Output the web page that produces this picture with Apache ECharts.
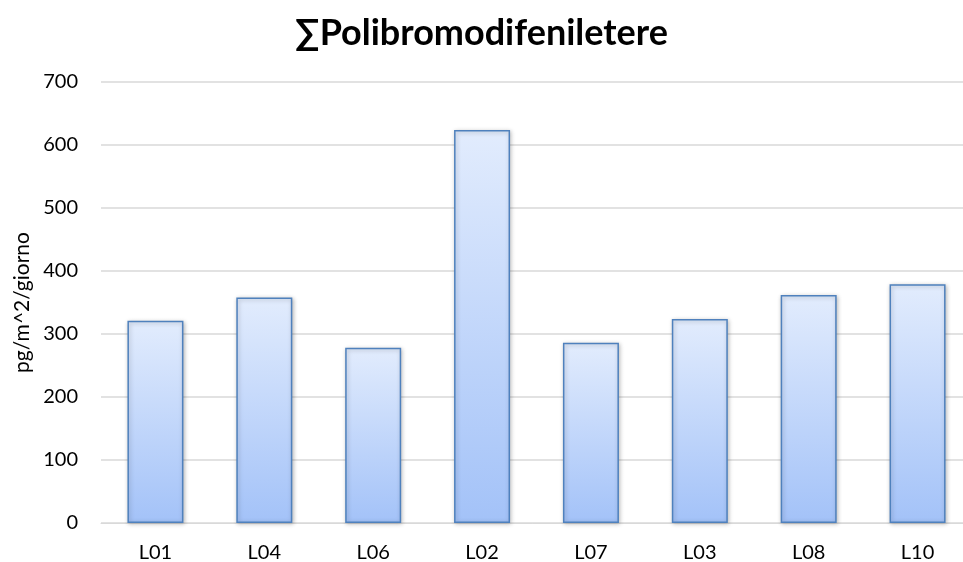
<!DOCTYPE html>
<html>
<head>
<meta charset="utf-8">
<script src="https://cdn.jsdelivr.net/npm/echarts@6/dist/echarts.min.js"></script>
<style>
  html, body { margin: 0; padding: 0; background: #fff; }
  #main { width: 963px; height: 562px; }
</style>
</head>
<body>
<div id="main"></div>
<script>
var categories = ['L01', 'L04', 'L06', 'L02', 'L07', 'L03', 'L08', 'L10'];
var values = [321, 358, 278, 624, 286, 324, 362, 379];
var yTicks = [0, 100, 200, 300, 400, 500, 600, 700];

var chart = echarts.init(document.getElementById('main'));

var option = {
    backgroundColor: '#ffffff',
    animation: false,
    title: {
        text: '∑Polibromodifeniletere',
        left: 'center',
        top: 10,
        textStyle: {
            fontFamily: 'Lato',
            fontWeight: 'bold',
            fontSize: 36,
            color: '#000'
        }
    },
    grid: {
        left: 101,
        top: 82,
        width: 871,
        height: 441,
        outerBoundsMode: 'none'
    },
    xAxis: {
        type: 'category',
        data: categories,
        axisLine: { lineStyle: { color: '#d9d9d9', width: 1 } },
        axisTick: { show: false },
        axisLabel: {
            color: '#000',
            fontFamily: 'Lato',
            fontSize: 20,
            margin: 20
        }
    },
    yAxis: {
        type: 'value',
        min: yTicks[0],
        max: yTicks[yTicks.length - 1],
        interval: 100,
        name: 'pg/m^2/giorno',
        nameLocation: 'middle',
        nameGap: 68,
        nameTextStyle: {
            fontFamily: 'Lato',
            fontSize: 21,
            color: '#000'
        },
        axisLine: { show: false },
        axisTick: { show: false },
        axisLabel: {
            color: '#000',
            fontFamily: 'Lato',
            fontSize: 20,
            margin: 23
        },
        splitLine: { lineStyle: { color: '#d9d9d9', width: 1.5 } }
    },
    series: [{
        type: 'bar',
        data: values,
        barWidth: 56,
        itemStyle: {
            color: new echarts.graphic.LinearGradient(0, 0, 0, 1, [
                { offset: 0, color: '#e2ecfd' },
                { offset: 1, color: '#a3c2f8' }
            ]),
            borderColor: '#4f81bd',
            borderWidth: 1.5,
            shadowColor: 'rgba(0,0,0,0.25)',
            shadowBlur: 4,
            shadowOffsetX: 1,
            shadowOffsetY: 1
        }
    }]
};

chart.setOption(option);
</script>
</body>
</html>
